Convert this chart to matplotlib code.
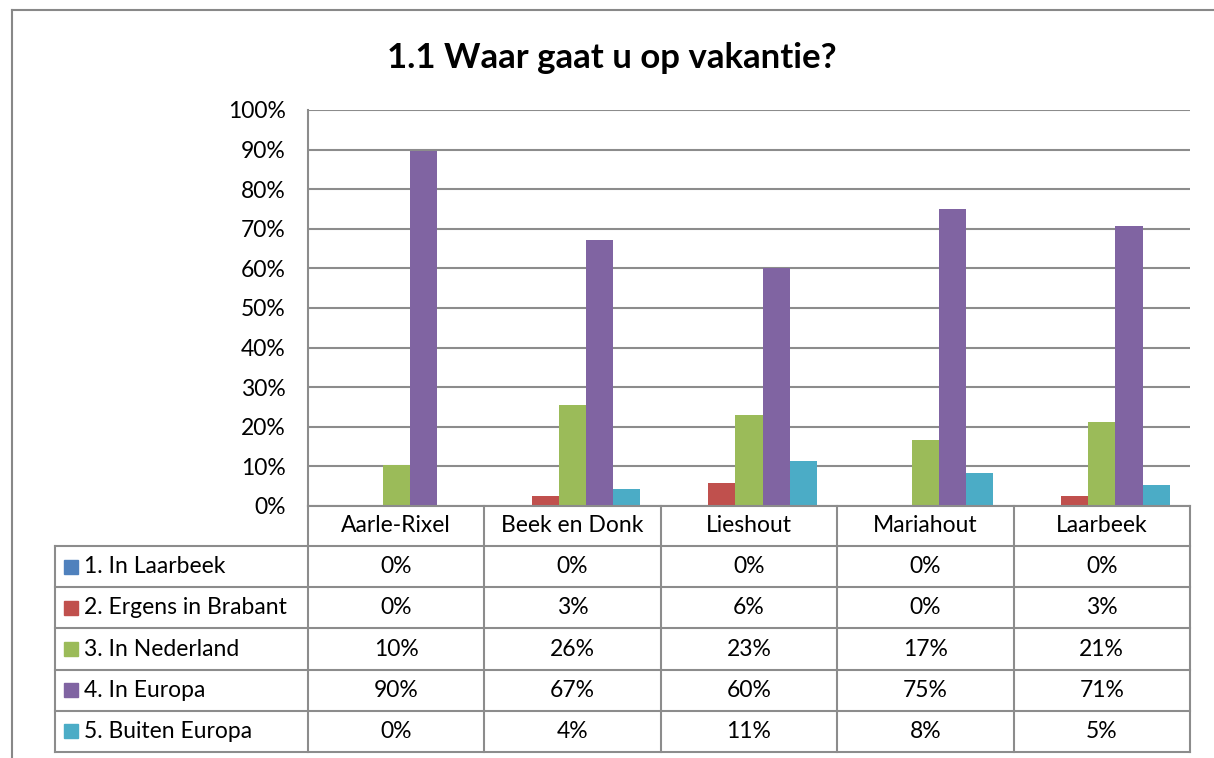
import numpy as np
import matplotlib
matplotlib.use("Agg")
from matplotlib import pyplot as plt
from matplotlib.lines import Line2D
from matplotlib.patches import Rectangle

plt.rcParams['font.family'] = ['Lato', 'DejaVu Sans']

# data
categories = ["Aarle-Rixel", "Beek en Donk", "Lieshout", "Mariahout", "Laarbeek"]
series = ["1. In Laarbeek", "2. Ergens in Brabant", "3. In Nederland",
          "4. In Europa", "5. Buiten Europa"]
in_laarbeek = [0.0, 0.0, 0.0, 0.0, 0.0]
ergens_brabant = [0.0, 2.6, 5.7, 0.0, 2.6]
in_nederland = [10.3, 25.6, 22.9, 16.7, 21.1]
in_europa = [89.7, 67.2, 60.0, 75.0, 70.6]
buiten_europa = [0.0, 4.3, 11.4, 8.3, 5.3]
values = [in_laarbeek, ergens_brabant, in_nederland, in_europa, buiten_europa]
colors = ["#4F81BD", "#C0504D", "#9BBB59", "#8064A2", "#4BACC6"]

W, H = 1214, 758
fig = plt.figure(figsize=(W / 100, H / 100), dpi=100)
grid_col = "#8c8c8c"
fs = 16.5

def fx(px):
    return px / W

def fy(py):
    return 1 - py / H

# plot area in pixels
left, right, top, bottom = 308, 1190, 110, 506
ax = fig.add_axes([fx(left), fy(bottom), fx(right - left), fy(top) - fy(bottom)])

n = len(categories)
bw = 1 / 6.5
for j, vals in enumerate(values):
    x = np.arange(n) + (0.75 + j + 0.5) * bw
    ax.bar(x, vals, width=bw, color=colors[j], zorder=3)

ax.set_xlim(0, n)
ax.set_ylim(0, 100)
ax.set_yticks(np.arange(0, 101, 10))
ax.set_yticklabels([f"{t}%" for t in range(0, 101, 10)], fontsize=fs)
ax.set_xticks([])
ax.tick_params(axis='y', length=0, pad=16)
ax.grid(axis='y', color=grid_col, linewidth=1.5, zorder=0)
for s in ["top", "right", "bottom"]:
    ax.spines[s].set_visible(False)
ax.spines["left"].set_color(grid_col)
ax.spines["left"].set_linewidth(1.5)

fig.text(fx(612), fy(58), "1.1 Waar gaat u op vakantie?", ha="center", va="center",
         fontsize=25, fontweight="bold")

# outer chart border
fig.add_artist(Line2D([fx(12), fx(12)], [fy(10), 0], color="#888888", lw=1.5))
fig.add_artist(Line2D([fx(12), 1], [fy(10), fy(10)], color="#888888", lw=1.5))

# data table
col_edges = np.linspace(left, right, n + 1)
row_h = 41.2
header_bot = 546
tbl_left = 55
rows_y = [header_bot + i * row_h for i in range(len(series) + 1)]
tbl_bot = rows_y[-1]

def hline(x0, x1, y):
    fig.add_artist(Line2D([fx(x0), fx(x1)], [fy(y), fy(y)], color=grid_col, lw=1.5))

def vline(x, y0, y1):
    fig.add_artist(Line2D([fx(x), fx(x)], [fy(y0), fy(y1)], color=grid_col, lw=1.5))

hline(left, right, bottom)
for y in rows_y:
    hline(tbl_left, right, y)
for x in col_edges:
    vline(x, bottom, tbl_bot)
vline(tbl_left, header_bot, tbl_bot)

for i, c in enumerate(categories):
    fig.text(fx((col_edges[i] + col_edges[i + 1]) / 2), fy((bottom + header_bot) / 2), c,
             ha="center", va="center", fontsize=fs)

for j, name in enumerate(series):
    yc = (rows_y[j] + rows_y[j + 1]) / 2
    fig.add_artist(Rectangle((fx(64), fy(yc + 7)), fx(14), fy(yc - 7) - fy(yc + 7),
                             color=colors[j], transform=fig.transFigure))
    fig.text(fx(84), fy(yc), name, ha="left", va="center", fontsize=fs)
    for i in range(n):
        fig.text(fx((col_edges[i] + col_edges[i + 1]) / 2), fy(yc), f"{values[j][i]:.0f}%",
                 ha="center", va="center", fontsize=fs)

fig.savefig("out.png", dpi=100)
